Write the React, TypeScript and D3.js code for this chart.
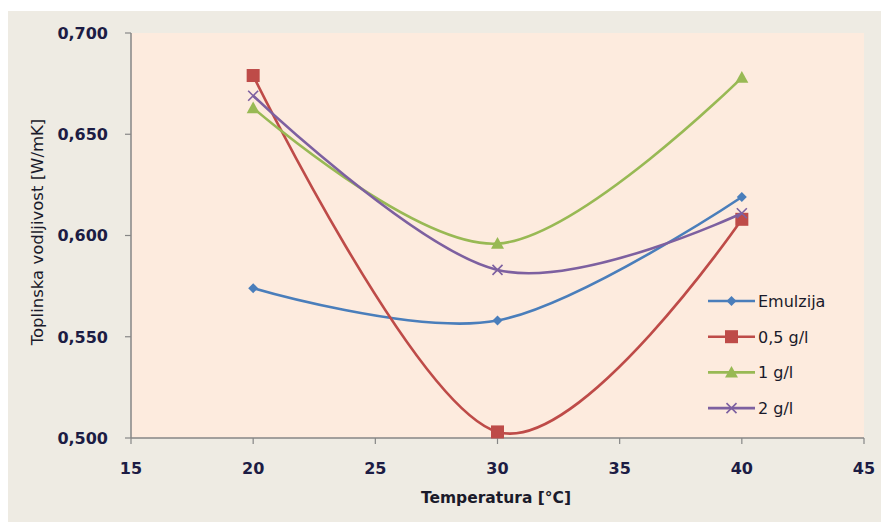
import React from "react";
import * as d3 from "d3";

const temps = [20, 30, 40];
const seriesNames = ["Emulzija", "0,5 g/l", "1 g/l", "2 g/l"];
const emulzija = [0.574, 0.558, 0.619];
const g05 = [0.679, 0.503, 0.608];
const g1 = [0.663, 0.596, 0.678];
const g2 = [0.669, 0.583, 0.611];
const colors = ["#4A7EBB", "#BE4B48", "#98B954", "#7D60A0"];
const markers = ["diamond", "square", "triangle", "x"];
const xTicks = [15, 20, 25, 30, 35, 40, 45];
const yTicks = [0.5, 0.55, 0.6, 0.65, 0.7];

const W = 881, H = 522;
const L = 131, R = 864, T = 33, B = 438;

function Marker({ type, x, y, color }: { type: string; x: number; y: number; color: string }) {
  if (type === "diamond") {
    const s = 5;
    return <path d={`M${x},${y - s}L${x + s},${y}L${x},${y + s}L${x - s},${y}Z`} fill={color} />;
  }
  if (type === "square") {
    const s = 6.5;
    return <rect x={x - s} y={y - s} width={2 * s} height={2 * s} fill={color} />;
  }
  if (type === "triangle") {
    const s = 6.5;
    return <path d={`M${x},${y - s}L${x + s},${y + s * 0.8}L${x - s},${y + s * 0.8}Z`} fill={color} />;
  }
  const s = 5;
  return (
    <path d={`M${x - s},${y - s}L${x + s},${y + s}M${x - s},${y + s}L${x + s},${y - s}`} stroke={color} strokeWidth={1.6} fill="none" />
  );
}

export default function App() {
  const x = d3.scaleLinear().domain([15, 45]).range([L, R]);
  const y = d3.scaleLinear().domain([0.5, 0.7]).range([B, T]);
  const data = [emulzija, g05, g1, g2];
  const line = d3
    .line<number>()
    .x((_, i) => x(temps[i]))
    .y((d) => y(d))
    .curve(d3.curveCardinal.tension(0));
  const font = "'DejaVu Sans', Verdana, sans-serif";
  const tickColor = "#1c1c44";
  return (
    <svg width={W} height={H} style={{ position: "absolute", left: 0, top: 0 }} fontFamily={font}>
      <rect x={0} y={0} width={W} height={H} fill="#ffffff" />
      <rect x={8} y={11} width={W - 8} height={H - 11} fill="#EEEBE3" />
      <rect x={L} y={T} width={R - L} height={B - T} fill="#FDEBDE" />
      {/* axes */}
      <line x1={L} y1={T} x2={L} y2={B} stroke="#868686" strokeWidth={1.5} />
      <line x1={L} y1={B} x2={R} y2={B} stroke="#868686" strokeWidth={1.5} />
      {yTicks.map((t) => (
        <g key={t}>
          <line x1={L - 6} x2={L} y1={y(t)} y2={y(t)} stroke="#868686" strokeWidth={1.2} />
          <text x={108} y={y(t) + 5.8} textAnchor="end" fontSize={16} fontWeight="bold" fill={tickColor}>
            {t.toFixed(3).replace(".", ",")}
          </text>
        </g>
      ))}
      {xTicks.map((t) => (
        <g key={t}>
          <line x1={x(t)} x2={x(t)} y1={B} y2={B + 6} stroke="#868686" strokeWidth={1.2} />
          <text x={x(t)} y={473.5} textAnchor="middle" fontSize={16} fontWeight="bold" fill={tickColor}>
            {t}
          </text>
        </g>
      ))}
      <text x={496} y={503} textAnchor="middle" fontSize={15.5} fontWeight="bold" fill="#1a1a2a">
        Temperatura [°C]
      </text>
      <text
        transform={`translate(43,${232}) rotate(-90)`}
        textAnchor="middle"
        fontSize={16.5}
        fill="#1a1a2a"
      >
        Toplinska vodljivost  [W/mK]
      </text>
      {/* series */}
      {data.map((vals, si) => (
        <g key={si}>
          <path d={line(vals) || ""} fill="none" stroke={colors[si]} strokeWidth={2.6} />
          {vals.map((v, i) => (
            <Marker key={i} type={markers[si]} x={x(temps[i])} y={y(v)} color={colors[si]} />
          ))}
        </g>
      ))}
      {/* legend */}
      {seriesNames.map((n, i) => {
        const ly = 301 + i * 35.7;
        return (
          <g key={n}>
            <line x1={708} x2={755} y1={ly} y2={ly} stroke={colors[i]} strokeWidth={2.6} />
            <Marker type={markers[i]} x={731.5} y={ly} color={colors[i]} />
            <text x={758} y={ly + 5.8} fontSize={16} fill="#1a1a2a">
              {n}
            </text>
          </g>
        );
      })}
    </svg>
  );
}
